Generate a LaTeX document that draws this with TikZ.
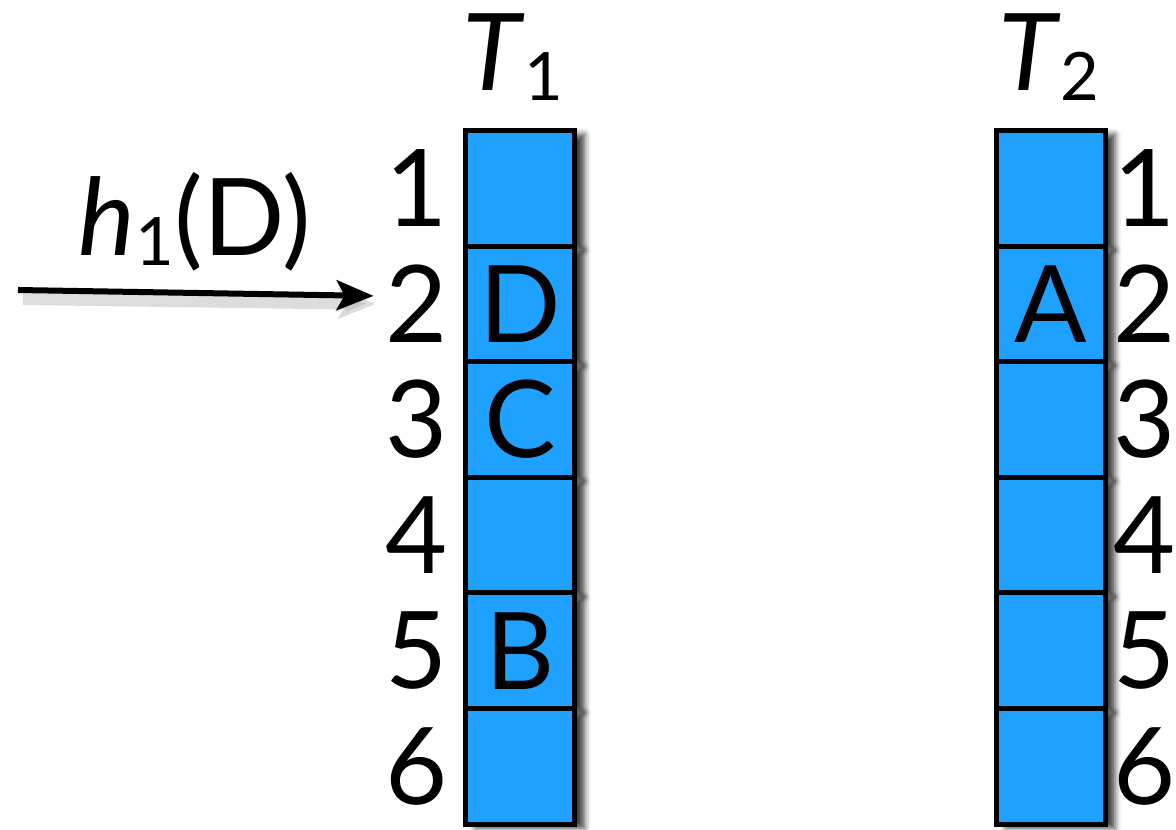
\documentclass[tikz,border=0pt]{standalone}
\usepackage{fontspec}
\setmainfont{Lato}
\usetikzlibrary{arrows.meta,shadows.blur}

\definecolor{cellblue}{RGB}{31,161,255}
% small lowered index after T and h
\newcommand{\lowsub}[1]{\raisebox{-0.2cm}{\fontsize{38}{38}\selectfont #1}}

\tikzset{
  cell/.style={draw=black, line width=0.1cm, fill=cellblue,
    minimum width=2.18cm, minimum height=2.312cm, inner sep=0pt,
    blur shadow={shadow xshift=0.2cm, shadow yshift=-0.08cm,
      shadow blur radius=0.12cm, shadow opacity=75},
    font=\fontsize{61}{61}\selectfont},
  num/.style={inner sep=0pt, font=\fontsize{61}{61}\selectfont},
  head/.style={inner sep=0pt, anchor=base, font=\fontsize{61}{61}\selectfont},
  hasharrow/.style={line width=0.12cm,
    -{Stealth[length=0.74cm,width=0.6cm,inset=0.16cm]}},
}

\begin{document}
\begin{tikzpicture}[x=0.02cm,y=-0.02cm]
  \useasboundingbox (0,0) rectangle (1176,829);

  % table T1 with its row numbers on the left
  \foreach \i/\txt in {1/,2/D,3/C,4/,5/B,6/} {
    \node[cell] (a\i) at (520,{130.5+115.6*(\i-0.5)}) {\txt};
    \node[num] (l\i) at (417,{130.5+115.6*(\i-0.5)}) {\i};
  }
  % table T2 with its row numbers on the right
  \foreach \i/\txt in {1/,2/A,3/,4/,5/,6/} {
    \node[cell] (b\i) at (1050.5,{130.5+115.6*(\i-0.5)}) {\txt};
    \node[num] (r\i) at (1145,{130.5+115.6*(\i-0.5)}) {\i};
  }

  \node[head] (t1) at (513,90) {\textit{T}\lowsub{1}};
  \node[head] (t2) at (1049,90) {\textit{T}\lowsub{2}};

  % the hashed key points at slot 2
  \node[head] (hd) at (195,255) {\textit{h}\lowsub{1}(D)};
  \coordinate (from) at (18,290);
  \draw[hasharrow, draw=black!30, opacity=0.45, line width=0.24cm]
    ([xshift=0.1cm,yshift=-0.18cm]from) -- ([xshift=-0.2cm,yshift=0.0cm]l2.west);
  \draw[hasharrow] (from) -- ([xshift=-0.24cm,yshift=0.16cm]l2.west);
\end{tikzpicture}
\end{document}
